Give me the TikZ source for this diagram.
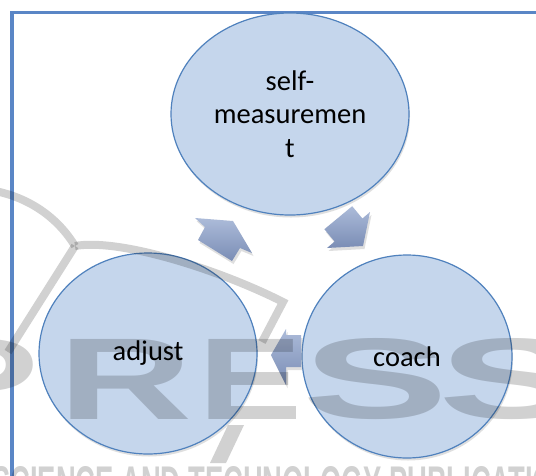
\documentclass[tikz,border=0pt]{standalone}
\usepackage{fontspec}
\usepackage{graphicx}
\setmainfont{Carlito}
\newfontfamily\wmfont{Liberation Sans}
\usetikzlibrary{shapes.geometric,shadows}

\definecolor{frameblue}{HTML}{5A86C6}
\definecolor{bubblefill}{HTML}{C5D6EC}
\definecolor{bubbleline}{HTML}{4F81BD}
\definecolor{arrowlight}{HTML}{ACBBD9}
\definecolor{arrowdark}{HTML}{7A8DB5}

\begin{document}
\begin{tikzpicture}[x=1pt,y=-1pt,
  bubble/.style={ellipse, draw=bubbleline, line width=1.2pt, fill=bubblefill,
    inner sep=0pt, align=center, font=\fontsize{28.5}{33.5}\selectfont,
    drop shadow={shadow xshift=1pt, shadow yshift=-2.5pt, opacity=0.25}},
  cyclearrow/.style={top color=arrowlight, bottom color=arrowdark,
    drop shadow={shadow xshift=1.5pt, shadow yshift=-3pt, opacity=0.25}},
  wmark/.style={text=black, text opacity=0.18, inner sep=0pt},
  wline/.style={line width=8pt, draw=black, draw opacity=0.18},
  wblock/.style={fill=black, fill opacity=0.18}]

\useasboundingbox (0,0) rectangle (536,475);
\clip (0,0) rectangle (536,475);
\fill[white] (0,0) rectangle (536,475);

% outer frame (open to the right and bottom)
\draw[frameblue, line width=3.5pt] (12,490) -- (12,12.3) -- (550,12.3);

% the three stages
\node[bubble, minimum width=238pt, minimum height=202pt] (meas) at (290,114)
  {self-\\measuremen\\t};
\node[bubble, minimum width=218pt, minimum height=201pt] (adj) at (148,353.5) {adjust};
\node[bubble, minimum width=210pt, minimum height=203pt] (coach) at (407,356.5) {coach};

% cycle arrows: adjust -> self-measurement -> coach -> adjust
\path[cyclearrow] (195,218) -- (233,221) -- (252,253) -- (240,248) -- (232,261)
  -- (198,240) -- (205,227) -- cycle;
\path[cyclearrow] (327,248) -- (334.6,241.5) -- (324.4,229.2) -- (352.2,206.2)
  -- (362.4,218.5) -- (370,212) -- (363,246) -- cycle;
\path[cyclearrow] (271,355) -- (286,329) -- (286,335) -- (301,335) -- (301,367)
  -- (286,367) -- (286,385) -- cycle;

% publisher watermark
\draw[wline] (-5,191) .. controls (30,198) and (58,218) .. (75,246);
\draw[wline] (75,246) .. controls (120,238) and (220,270) .. (283,302) -- (262,342);
\draw[wline] (75,246) -- (8,352);
\path[wblock] (228,425) -- (244,425) -- (226,463) -- (210,463) -- cycle;
\node[wmark, anchor=south west] (wp) at (-85,420) {\resizebox{124pt}{80pt}{\wmfont\bfseries P}};
\node[wmark, anchor=south west] (wr) at (58,420) {\resizebox{134pt}{80pt}{\wmfont\bfseries R}};
\node[wmark, anchor=south west] (we) at (198,420) {\resizebox{104pt}{80pt}{\wmfont\bfseries E}};
\node[wmark, anchor=south west] (ws1) at (302,420) {\resizebox{146pt}{80pt}{\wmfont\bfseries S}};
\node[wmark, anchor=south west] (ws2) at (438,420) {\resizebox{146pt}{80pt}{\wmfont\bfseries S}};
\node[wmark, anchor=north west] (wtag) at (-8,466)
  {\resizebox{600pt}{34pt}{\wmfont\bfseries SCIENCE AND TECHNOLOGY PUBLICATIONS}};
\end{tikzpicture}
\end{document}
